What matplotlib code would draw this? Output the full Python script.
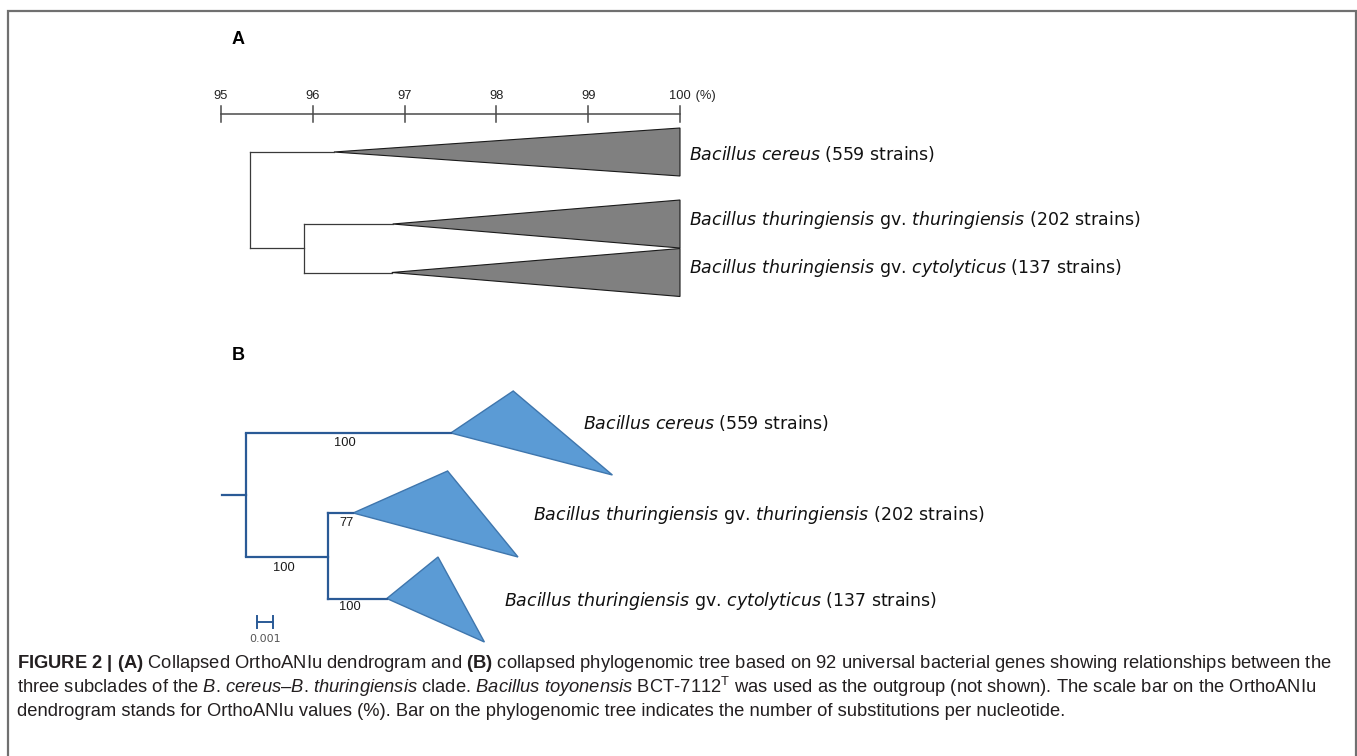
import matplotlib
matplotlib.use("Agg")
import matplotlib.pyplot as plt
from matplotlib.patches import Polygon
from matplotlib import font_manager as fm

# ---------------- data ----------------
species = ["Bacillus cereus", "Bacillus thuringiensis", "Bacillus thuringiensis"]
biovar = [None, "thuringiensis", "cytolyticus"]
strain_counts = [559, 202, 137]

# Panel A : OrthoANIu dendrogram (%)
ani_ticks = [95, 96, 97, 98, 99, 100]
ani_root = 95.32
ani_inner = 95.90
ani_clade_min = [96.23, 96.87, 96.86]
ani_clade_max = [100, 100, 100]

# Panel B : phylogenomic tree (substitutions / nucleotide)
branch_root_stub = 0.0015
branch_root_inner = 0.0051
branch_clade = [0.0128, 0.0016, 0.0037]      # cereus from root; others from inner node
clade_depth_top = [0.0039, 0.0059, 0.0032]
clade_depth_bottom = [0.0101, 0.0103, 0.0061]
bootstrap_clade = [100, 77, 100]
bootstrap_inner = 100
scale_bar = 0.001

# ---------------- figure ----------------
W, H = 1357, 756
fig = plt.figure(figsize=(W / 100, H / 100), dpi=100)


def px_axes(x0, y0, x1, y1):
    ax = fig.add_axes([x0 / W, 1 - y1 / H, (x1 - x0) / W, (y1 - y0) / H])
    ax.set_axis_off()
    return ax


def has_font(name):
    try:
        fm.findfont(fm.FontProperties(family=name), fallback_to_default=False)
        return True
    except Exception:
        return False


cap_font = "Liberation Sans Narrow" if has_font("Liberation Sans Narrow") else "Liberation Sans"
plt.rcParams["mathtext.fontset"] = "custom"
plt.rcParams["mathtext.rm"] = cap_font
plt.rcParams["mathtext.it"] = cap_font + ":italic"
plt.rcParams["mathtext.bf"] = cap_font + ":bold"
plt.rcParams["mathtext.sf"] = cap_font

# background / frame
bg = px_axes(0, 0, W, H)
bg.set_xlim(0, W)
bg.set_ylim(H, 0)
frame_c = "#707070"
bg.plot([8, 8, 1356, 1356], [H, 11, 11, H], color=frame_c, lw=1.6, solid_joinstyle="miter")

# ---------------- Panel A ----------------
pxA = 91.8
axA = px_axes(150, 20, 1300, 320)
axA.set_xlim(95 - (221 - 150) / pxA, 95 + (1300 - 221) / pxA)
axA.set_ylim(320, 20)

axA.text(95 + (238 - 221) / pxA, 39, "A", fontsize=13, fontweight="bold",
         family="Liberation Sans", ha="center", va="center")

scale_y = 114
line_c = "#4a4a4a"
axA.plot([ani_ticks[0], ani_ticks[-1]], [scale_y, scale_y], color=line_c, lw=1.1)
for t in ani_ticks:
    axA.plot([t, t], [scale_y - 8, scale_y + 8], color=line_c, lw=1.1)
    axA.text(t, 96, str(t), fontsize=9.3, family="Liberation Sans", ha="center",
             va="center", color="#222222")
axA.annotate(" (%)", xy=(ani_ticks[-1], 96), xytext=(8.8, 0), textcoords="offset points",
             fontsize=9.3, family="Liberation Sans", ha="left", va="center", color="#222222")

leafA = [152, 224, 272.5]
halfA = 24
innerA_y = (leafA[1] + leafA[2]) / 2
rootA_y = innerA_y
tree_c = "#3a3a3a"
axA.plot([ani_root, ani_root], [leafA[0], rootA_y], color=tree_c, lw=0.9)
axA.plot([ani_root, ani_clade_min[0]], [leafA[0], leafA[0]], color=tree_c, lw=0.9)
axA.plot([ani_root, ani_inner], [rootA_y, rootA_y], color=tree_c, lw=0.9)
axA.plot([ani_inner, ani_inner], [leafA[1], leafA[2]], color=tree_c, lw=0.9)
for i in (1, 2):
    axA.plot([ani_inner, ani_clade_min[i]], [leafA[i], leafA[i]], color=tree_c, lw=0.9)
for i in range(3):
    tri = Polygon([[ani_clade_min[i], leafA[i]],
                   [ani_clade_max[i], leafA[i] - halfA],
                   [ani_clade_max[i], leafA[i] + halfA]],
                  closed=True, facecolor="#808080", edgecolor="#1a1a1a", lw=0.8)
    axA.add_patch(tri)


def species_label(i):
    sp = species[i].replace(" ", r"\ ")
    s = r"$\mathit{" + sp + "}$"
    if biovar[i]:
        s += r" gv. $\mathit{" + biovar[i] + "}$"
    s += f" ({strain_counts[i]} strains)"
    return s


lab_size = 12.5
labA_y = [154, 220, 268]
for i in range(3):
    axA.annotate(species_label(i), xy=(ani_clade_max[i], labA_y[i]), xytext=(6.5, 0),
                 textcoords="offset points", fontsize=lab_size, family="DejaVu Sans",
                 math_fontfamily="dejavusans", ha="left", va="center", color="#111111")

# ---------------- Panel B ----------------
pxB = 16000.0
root_px = 246
axB = px_axes(150, 330, 1300, 660)
axB.set_xlim((150 - root_px) / pxB, (1300 - root_px) / pxB)
axB.set_ylim(660, 330)

axB.text((238 - root_px) / pxB, 355, "B", fontsize=13, fontweight="bold",
         family="Liberation Sans", ha="center", va="center")

blue = "#2a5a96"
fill = "#5b9bd5"
edge = "#3f76ad"
leafB = [433, 513, 598.5]
innerB_y = 557
rootB_y = (leafB[0] + innerB_y) / 2
lwB = 1.6

x_root = 0.0
x_inner = x_root + branch_root_inner
apex = [x_root + branch_clade[0], x_inner + branch_clade[1], x_inner + branch_clade[2]]

axB.plot([x_root - branch_root_stub, x_root], [rootB_y, rootB_y], color=blue, lw=lwB)
axB.plot([x_root, x_root], [leafB[0], innerB_y], color=blue, lw=lwB, solid_capstyle="butt")
axB.plot([x_root, apex[0]], [leafB[0], leafB[0]], color=blue, lw=lwB)
axB.plot([x_root, x_inner], [innerB_y, innerB_y], color=blue, lw=lwB)
axB.plot([x_inner, x_inner], [leafB[1], leafB[2]], color=blue, lw=lwB)
for i in (1, 2):
    axB.plot([x_inner, apex[i]], [leafB[i], leafB[i]], color=blue, lw=lwB)

tri_up = [42, 42, 41.5]
tri_dn = [42, 44, 43.5]
for i in range(3):
    tri = Polygon([[apex[i], leafB[i]],
                   [apex[i] + clade_depth_top[i], leafB[i] - tri_up[i]],
                   [apex[i] + clade_depth_bottom[i], leafB[i] + tri_dn[i]]],
                  closed=True, facecolor=fill, edgecolor=edge, lw=1.0)
    axB.add_patch(tri)

bs_kw = dict(fontsize=9.3, family="Liberation Sans", ha="center", va="center", color="#1a1a1a")
axB.text((x_root + apex[0]) / 2 - 4 / pxB, leafB[0] + 10, str(bootstrap_clade[0]), **bs_kw)
axB.text(x_inner + 19 / pxB, leafB[1] + 10, str(bootstrap_clade[1]), **bs_kw)
axB.text((x_root + x_inner) / 2 - 3 / pxB, innerB_y + 11, str(bootstrap_inner), **bs_kw)
axB.text((x_inner + apex[2]) / 2 - 7 / pxB, leafB[2] + 9, str(bootstrap_clade[2]), **bs_kw)

sb_x0 = (257 - root_px) / pxB
sb_y = 622
axB.plot([sb_x0, sb_x0 + scale_bar], [sb_y, sb_y], color=blue, lw=1.4)
for xx in (sb_x0, sb_x0 + scale_bar):
    axB.plot([xx, xx], [sb_y - 6, sb_y + 6], color=blue, lw=1.4)
axB.text(sb_x0 + scale_bar / 2, 639, f"{scale_bar:.3f}", fontsize=8, family="DejaVu Sans",
         ha="center", va="center", color="#555555")

labB = [(583, 423), (533, 515), (504, 601)]
for i in range(3):
    axB.text((labB[i][0] - root_px) / pxB, labB[i][1], species_label(i), fontsize=lab_size,
             family="DejaVu Sans", math_fontfamily="dejavusans", ha="left", va="center",
             color="#111111")

# ---------------- caption ----------------
cap_lines = [
    r"$\mathbf{FIGURE\ 2\ |\ (A)}$ Collapsed OrthoANIu dendrogram and $\mathbf{(B)}$ collapsed "
    r"phylogenomic tree based on 92 universal bacterial genes showing relationships between the",
    r"three subclades of the $\mathit{B}$. $\mathit{cereus–B}$. $\mathit{thuringiensis}$ clade. "
    r"$\mathit{Bacillus\ toyonensis}$ BCT-7112$^{\mathrm{T}}$ was used as the outgroup (not shown). "
    r"The scale bar on the OrthoANIu",
    r"dendrogram stands for OrthoANIu values (%). Bar on the phylogenomic tree indicates "
    r"the number of substitutions per nucleotide.",
]
cap_y = [663, 687, 711]
texts = []
for s, yy in zip(cap_lines, cap_y):
    t = bg.text(17, yy, s, fontsize=12, family=cap_font, math_fontfamily="custom",
                ha="left", va="center", color="#231f20")
    texts.append(t)
fig.canvas.draw()
r = fig.canvas.get_renderer()
w0 = texts[0].get_window_extent(r).width
scale = 1311.0 / w0
for t in texts:
    t.set_fontsize(12 * scale)

fig.savefig("out.png", dpi=100)
